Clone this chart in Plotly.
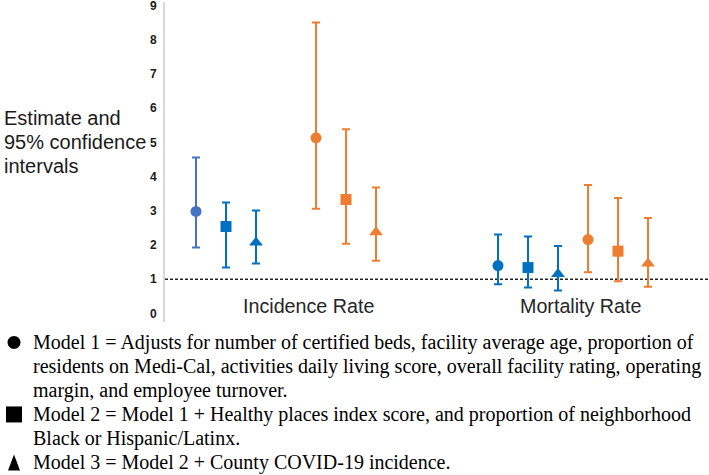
import plotly.graph_objects as go

# ---------------- data ----------------
categories = ["Incidence Rate", "Mortality Rate"]
models = ["Model 1", "Model 2", "Model 3"]
y_ticks = [0, 1, 2, 3, 4, 5, 6, 7, 8, 9]

blue_inc_est = [2.98, 2.54, 2.07]
blue_inc_lo = [1.93, 1.34, 1.46]
blue_inc_hi = [4.56, 3.24, 3.01]
blue_mort_est = [1.40, 1.34, 1.15]
blue_mort_lo = [0.85, 0.76, 0.67]
blue_mort_hi = [2.31, 2.25, 1.97]

orange_inc_est = [5.13, 3.33, 2.37]
orange_inc_lo = [3.06, 2.04, 1.54]
orange_inc_hi = [8.50, 5.38, 3.68]
orange_mort_est = [2.16, 1.82, 1.46]
orange_mort_lo = [1.20, 0.94, 0.78]
orange_mort_hi = [3.75, 3.37, 2.79]

reference_value = 1

legend_lines = [
    "Model 1 = Adjusts for number of certified beds, facility average age, proportion of",
    "residents on Medi-Cal, activities daily living score, overall facility rating, operating",
    "margin, and employee turnover.",
    "Model 2 = Model 1 + Healthy places index score, and proportion of neighborhood",
    "Black or Hispanic/Latinx.",
    "Model 3 = Model 2 + County COVID-19 incidence.",
]
y_title_lines = ["Estimate and", "95% confidence", "intervals"]

# ---------------- layout / style ----------------
W, H = 709, 475
ML, MR = 165, 0
PX_PER_UNIT = 34.22
Y_MIN, Y_MAX = -0.25, 9.1
ZERO_PX = 313
TOP_PX = ZERO_PX - Y_MAX * PX_PER_UNIT
PLOT_BOTTOM_PX = ZERO_PX - Y_MIN * PX_PER_UNIT
MT = TOP_PX
MB = H - PLOT_BOTTOM_PX
PW = W - ML - MR
PH = PLOT_BOTTOM_PX - MT

def px_x(p):
    return (p - ML) / PW

def px_y(p):
    return (PLOT_BOTTOM_PX - p) / PH

BLUE = "#0070C0"
BLUE_LIGHT = "#4472C4"
ORANGE = "#ED7D31"
symbols = ["circle", "square", "triangle-up"]
sizes = [11, 11, 12]
slot = 0.1103
# slot offsets for each series in each category
blue_slots = [[-3.5, -2.5, -1.5], [-2.5, -1.5, -0.5]]
orange_slots = [[0.5, 1.5, 2.5], [0.5, 1.5, 2.5]]

series = [
    ("blue", [blue_inc_est, blue_mort_est], [blue_inc_lo, blue_mort_lo],
     [blue_inc_hi, blue_mort_hi], blue_slots),
    ("orange", [orange_inc_est, orange_mort_est], [orange_inc_lo, orange_mort_lo],
     [orange_inc_hi, orange_mort_hi], orange_slots),
]

fig = go.Figure()
for name, est, lo, hi, slots in series:
    for ci, cat in enumerate(categories):
        for mi, model in enumerate(models):
            if name == "blue":
                color = BLUE_LIGHT if (ci == 0 and mi == 0) else BLUE
            else:
                color = ORANGE
            e = est[ci][mi]
            fig.add_trace(go.Scatter(
                x=[ci + slots[ci][mi] * slot],
                y=[e],
                mode="markers",
                name=f"{cat} {model}",
                showlegend=False,
                marker=dict(symbol=symbols[mi], size=sizes[mi], color=color,
                            line=dict(width=0)),
                error_y=dict(type="data", symmetric=False,
                             array=[hi[ci][mi] - e], arrayminus=[e - lo[ci][mi]],
                             color=color, thickness=2, width=4),
                cliponaxis=False,
            ))

shapes = [
    dict(type="line", xref="paper", yref="y", x0=0, x1=1,
         y0=reference_value, y1=reference_value,
         line=dict(color="#222222", width=1.5, dash="3px,2px"), layer="below"),
]

annotations = []
for ci, cat in enumerate(categories):
    annotations.append(dict(
        x=ci, y=0.23, xref="x", yref="y", text=cat, showarrow=False,
        xshift=7, font=dict(family="Liberation Sans, Arial", size=19.7, color="#262626"),
        xanchor="center", yanchor="middle"))

for i, line in enumerate(y_title_lines):
    annotations.append(dict(
        x=px_x(2), y=px_y(118 + 24 * i), xref="paper", yref="paper", text=line,
        showarrow=False, xanchor="left", yanchor="middle",
        font=dict(family="Liberation Sans, Arial", size=20, color="#1a1a1a")))

legend_y = [342, 366, 390, 414, 438, 462]
for i, line in enumerate(legend_lines):
    annotations.append(dict(
        x=px_x(31), y=px_y(legend_y[i]), xref="paper", yref="paper", text=line,
        showarrow=False, xanchor="left", yanchor="middle",
        font=dict(family="Liberation Serif, Times New Roman", size=20, color="#000000")))

# legend symbols
cx, r = 14, 6.5
cy = legend_y[0]
shapes.append(dict(type="circle", xref="paper", yref="paper",
                   x0=px_x(cx - r), x1=px_x(cx + r), y0=px_y(cy + r), y1=px_y(cy - r),
                   fillcolor="black", line=dict(width=0)))
cy = legend_y[3]
shapes.append(dict(type="rect", xref="paper", yref="paper",
                   x0=px_x(6), x1=px_x(22), y0=px_y(cy + 8), y1=px_y(cy - 8),
                   fillcolor="black", line=dict(width=0)))
cy = legend_y[5]
tri = (f"M {px_x(8)} {px_y(cy + 8)} L {px_x(20)} {px_y(cy + 8)} "
       f"L {px_x(14)} {px_y(cy - 8)} Z")
shapes.append(dict(type="path", xref="paper", yref="paper", path=tri,
                   fillcolor="black", line=dict(width=0)))

fig.update_layout(
    width=W, height=H,
    margin=dict(l=ML, r=MR, t=MT, b=MB, pad=0, autoexpand=False),
    paper_bgcolor="white", plot_bgcolor="white",
    showlegend=False,
    xaxis=dict(range=[-0.5, 1.5], visible=False, fixedrange=True),
    yaxis=dict(range=[Y_MIN, Y_MAX], tickvals=y_ticks, ticktext=[str(t) for t in y_ticks],
               showgrid=False, zeroline=False, showline=True, linecolor="#d9d9d9",
               linewidth=2, ticks="", ticklabelstandoff=4, automargin=False,
               ticklabeloverflow="allow", fixedrange=True,
               tickfont=dict(family="Liberation Sans, Arial", size=12, color="#1a1a1a",
                             weight="bold")),
    shapes=shapes,
    annotations=annotations,
)

fig.write_html("out.html", config={"displayModeBar": False, "staticPlot": True},
               post_script="document.body.style.margin='0';document.body.style.padding='0';")
